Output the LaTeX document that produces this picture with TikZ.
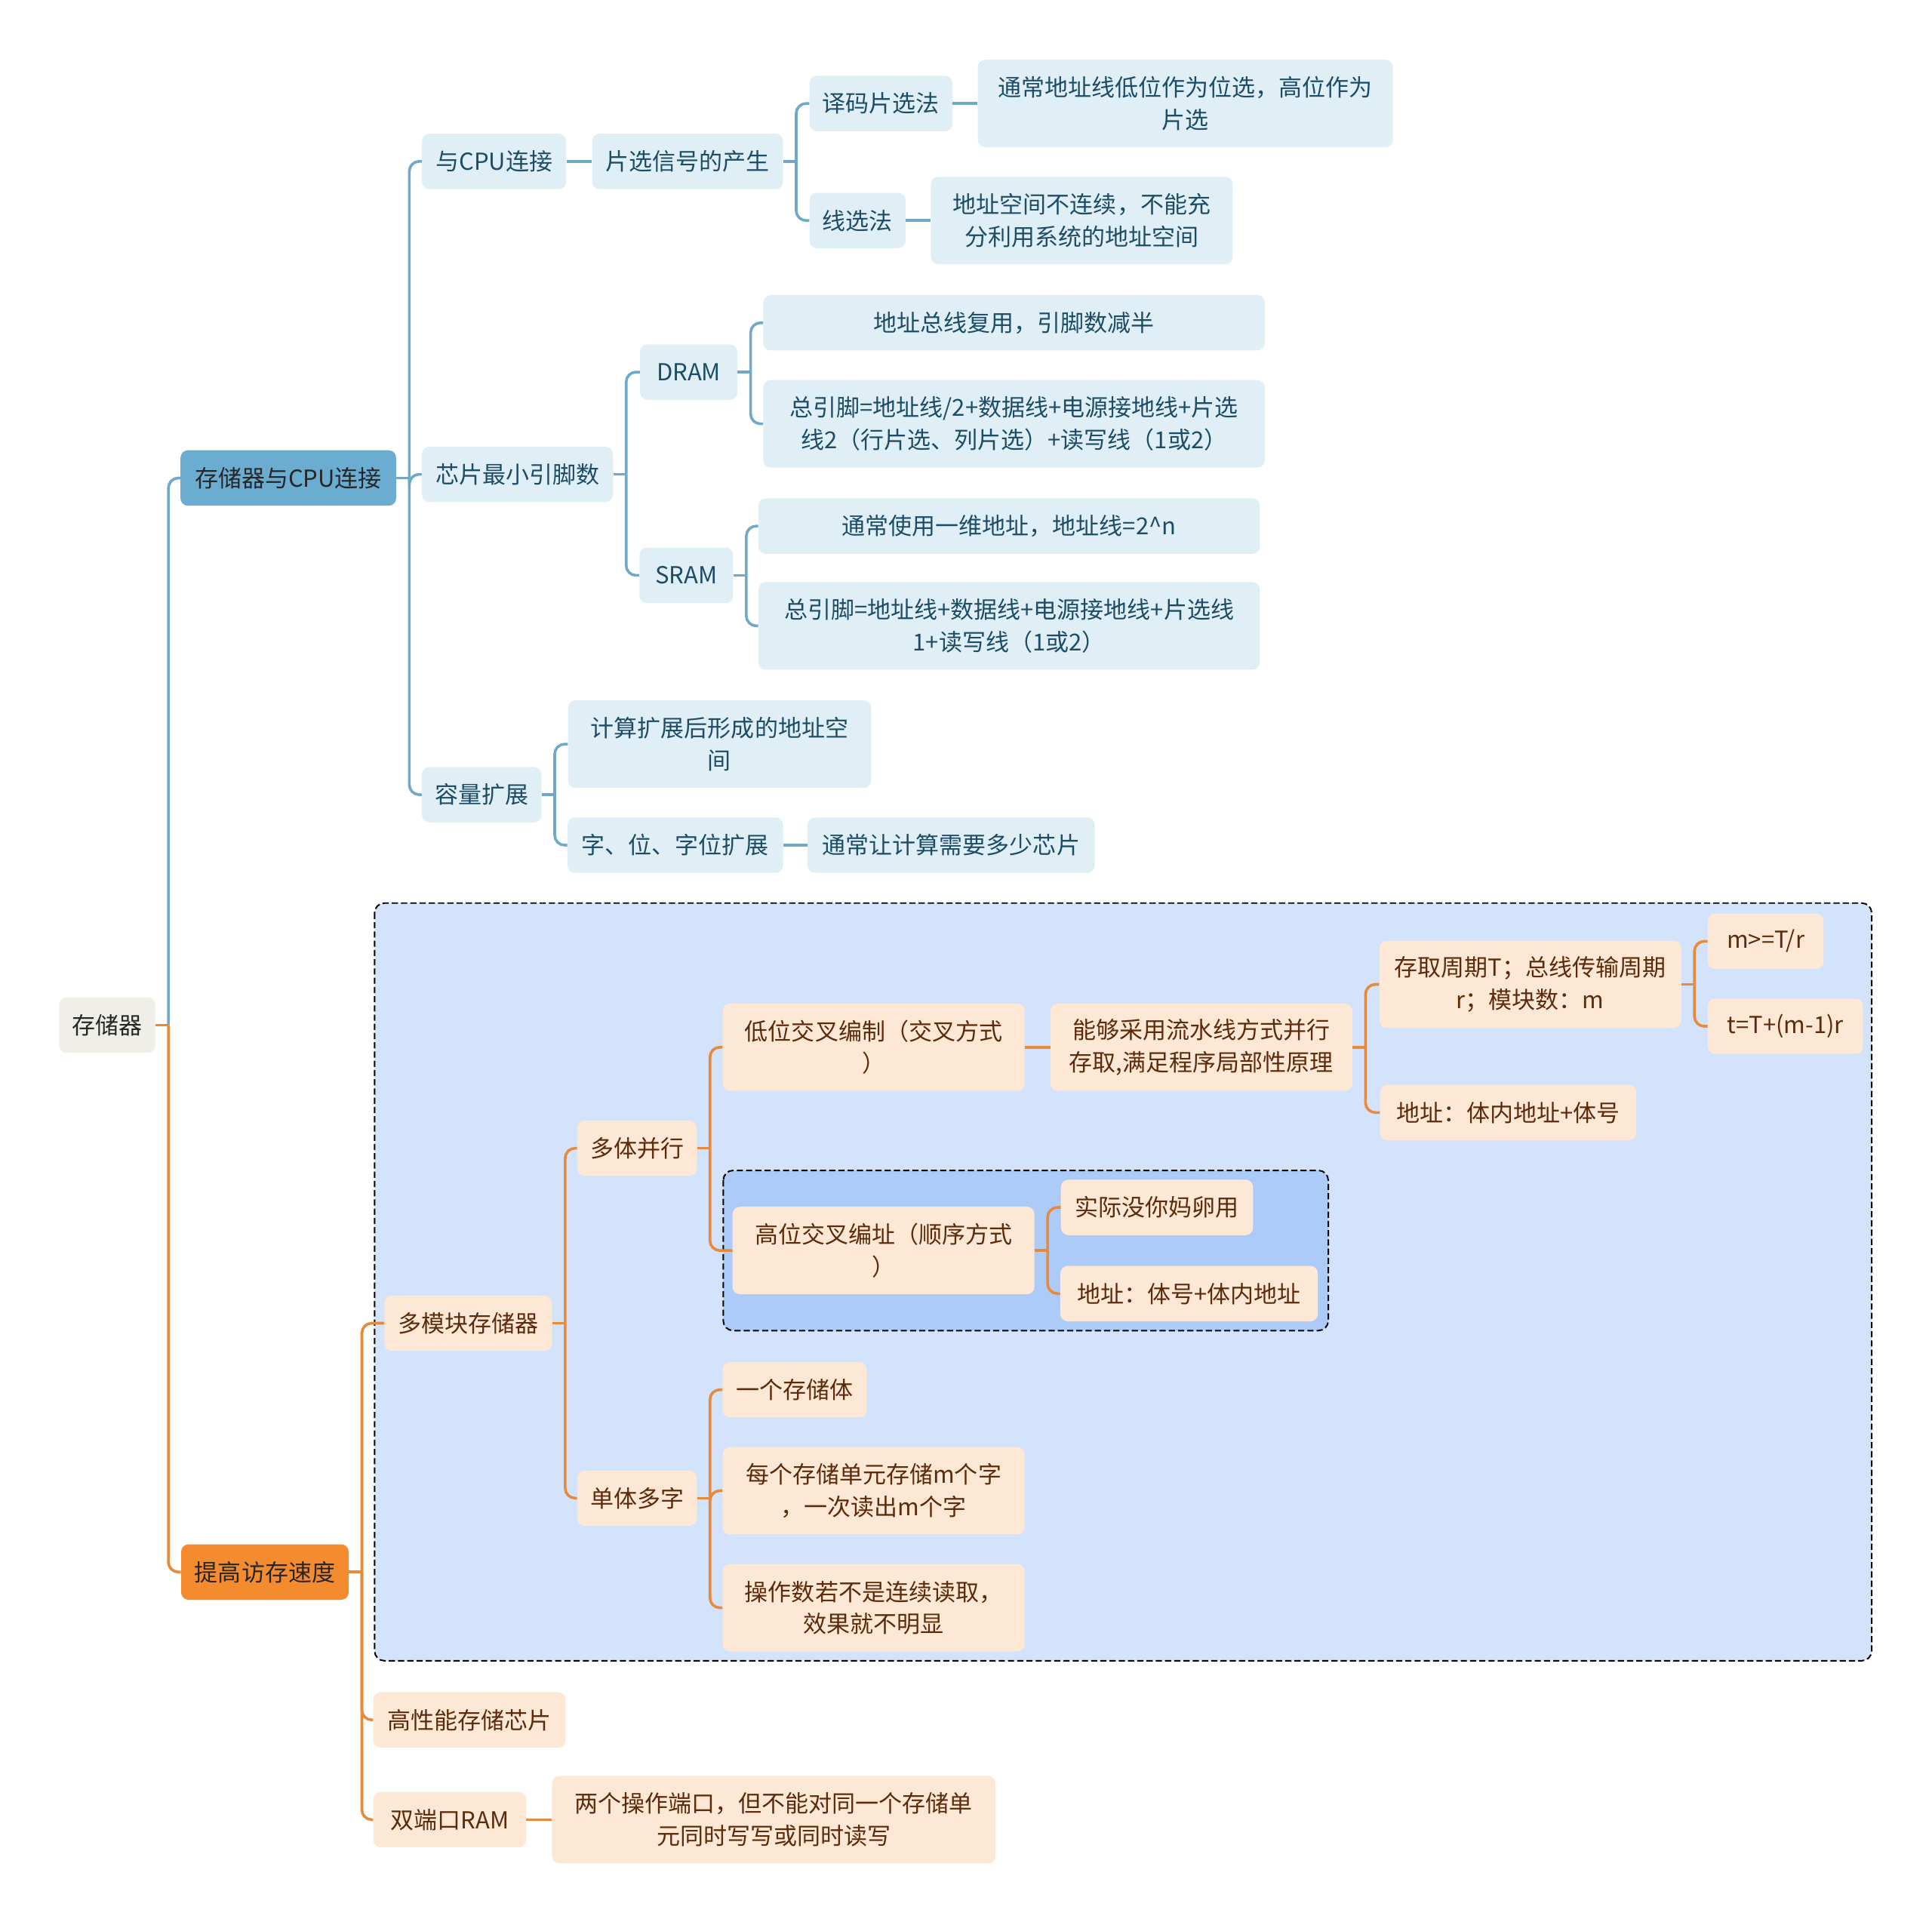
\documentclass[tikz,border=0pt]{standalone}
\usepackage{fontspec}
\setmainfont{Noto Sans CJK SC}
\usetikzlibrary{positioning,calc}
\definecolor{blueline}{RGB}{111,169,199}
\definecolor{bluefill}{RGB}{224,239,246}
\definecolor{bluemain}{RGB}{107,173,209}
\definecolor{bluetext}{RGB}{29,77,102}
\definecolor{orangeline}{RGB}{232,138,60}
\definecolor{orangefill}{RGB}{253,231,213}
\definecolor{orangemain}{RGB}{245,139,47}
\definecolor{orangetext}{RGB}{92,43,11}
\definecolor{rootfill}{RGB}{239,239,231}
\definecolor{zonefill}{RGB}{211,227,251}
\definecolor{zoneinner}{RGB}{173,203,249}

\begin{document}
\begin{tikzpicture}[
                x=1pt, y=-1pt,
                font=\fontsize{19pt}{26pt}\selectfont,
                box/.style={rectangle, rounded corners=6pt, inner xsep=10pt, inner ysep=4pt, minimum height=45pt, align=center},
                bnode/.style={box, fill=bluefill, text=bluetext},
                onode/.style={box, fill=orangefill, text=orangetext},
                tall/.style={minimum height=71pt},
                bedge/.style={draw=blueline, line width=2.2pt, rounded corners=8pt},
                oedge/.style={draw=orangeline, line width=2.2pt, rounded corners=8pt},
                zone/.style={draw=black, line width=1.2pt, dash pattern=on 5pt off 2.5pt, rounded corners=8pt},
            ]
            \useasboundingbox (0,0) rectangle (1568,1562);
            % dashed zones
            \draw[zone, fill=zonefill] (304,733) rectangle (1519,1348);
            \draw[zone, fill=zoneinner] (587,950) rectangle (1078,1080);

            % root and main branches
            \node[box, fill=rootfill, text=black!85, minimum width=78pt] (root) at (87,832) {存储器};
            \node[box, fill=bluemain, text=black!85, minimum width=175pt] (bcpu) at (234,388) {存储器与CPU连接};
            \node[box, fill=orangemain, text=black!85, minimum width=136pt] (bspeed) at (215,1276) {提高访存速度};

            % blue branch
            \node[bnode, minimum width=117pt] (cpu) at (401,131) {与CPU连接};
            \node[bnode, minimum width=155pt] (pin) at (420,385) {芯片最小引脚数};
            \node[bnode, minimum width=97pt] (cap) at (391,645) {容量扩展};
            \node[bnode, minimum width=155pt] (csel) at (558,131) {片选信号的产生};
            \node[bnode, minimum width=116pt] (dec) at (715,84) {译码片选法};
            \node[bnode, minimum width=78pt] (lsel) at (696,179) {线选法};
            \node[bnode, tall, minimum width=337pt] (decnote) at (962,84) {通常地址线低位作为位选，高位作为\\片选};
            \node[bnode, tall, minimum width=245pt] (lselnote) at (878,179) {地址空间不连续，不能充\\分利用系统的地址空间};
            \node[bnode, minimum width=79pt] (dram) at (559,302) {DRAM};
            \node[bnode, minimum width=76pt] (sram) at (557,467) {SRAM};
            \node[bnode, minimum width=407pt] (dramone) at (823,262) {地址总线复用，引脚数减半};
            \node[bnode, tall, minimum width=407pt] (dramtwo) at (823,344) {总引脚=地址线/2+数据线+电源接地线+片选\\线2（行片选、列片选）+读写线（1或2）};
            \node[bnode, minimum width=407pt] (sramone) at (819,427) {通常使用一维地址，地址线=2\^{}n};
            \node[bnode, tall, minimum width=407pt] (sramtwo) at (819,508) {总引脚=地址线+数据线+电源接地线+片选线\\1+读写线（1或2）};
            \node[bnode, tall, minimum width=246pt] (capa) at (584,604) {计算扩展后形成的地址空\\间};
            \node[bnode, minimum width=175pt] (capb) at (548,686) {字、位、字位扩展};
            \node[bnode, minimum width=233pt] (capc) at (772,686) {通常让计算需要多少芯片};

            % orange branch
            \node[onode, minimum width=136pt] (multi) at (380,1074) {多模块存储器};
            \node[onode, minimum width=156pt] (hperf) at (381,1396) {高性能存储芯片};
            \node[onode, minimum width=124pt] (dual) at (365,1477) {双端口RAM};
            \node[onode, tall, minimum width=360pt] (dualnote) at (628,1477) {两个操作端口，但不能对同一个存储单\\元同时写写或同时读写};
            \node[onode, minimum width=97pt] (para) at (517,932) {多体并行};
            \node[onode, minimum width=97pt] (single) at (517,1216) {单体多字};
            \node[onode, tall, minimum width=245pt] (low) at (709,850) {低位交叉编制（交叉方式\\）};
            \node[onode, tall, minimum width=245pt] (high) at (717,1015) {高位交叉编址（顺序方式\\）};
            \node[onode, tall, minimum width=245pt] (lownote) at (975,850) {能够采用流水线方式并行\\存取,满足程序局部性原理};
            \node[onode, tall, minimum width=245pt] (cyc) at (1242,799) {存取周期T；总线传输周期\\r；模块数：m};
            \node[onode, minimum width=208pt] (laddr) at (1224,903) {地址：体内地址+体号};
            \node[onode, minimum width=94pt] (mge) at (1433,764) {m>=T/r};
            \node[onode, minimum width=126pt] (tform) at (1449,833) {t=T+(m-1)r};
            \node[onode, minimum width=156pt] (useless) at (939,980) {实际没你妈卵用};
            \node[onode, minimum width=209pt] (haddr) at (965,1050) {地址：体号+体内地址};
            \node[onode, minimum width=117pt] (one) at (645,1128) {一个存储体};
            \node[onode, tall, minimum width=245pt] (mword) at (709,1210) {每个存储单元存储m个字\\，一次读出m个字};
            \node[onode, tall, minimum width=245pt] (nocont) at (709,1305) {操作数若不是连续读取，\\效果就不明显};

            % junction points
            \foreach \p in {root,bcpu,csel,pin,dram,sram,cap,bspeed,multi,para,single,lownote,cyc,high}
                \coordinate (\p j) at ([xshift=10.5pt]\p.east);

            % connectors
            \draw[oedge] (root.east) -- (rootj);
            \draw[bedge] (rootj) |- (bcpu.west);
            \draw[oedge] (rootj) |- (bspeed.west);
            \draw[bedge] (bcpu.east) -- (bcpuj);
            \foreach \c in {cpu,pin,cap} \draw[bedge] (bcpuj) |- (\c.west);
            \draw[bedge] (cpu) -- (csel);
            \draw[bedge] (csel.east) -- (cselj);
            \foreach \c in {dec,lsel} \draw[bedge] (cselj) |- (\c.west);
            \draw[bedge] (dec) -- (decnote);
            \draw[bedge] (lsel) -- (lselnote);
            \draw[bedge] (pin.east) -- (pinj);
            \foreach \c in {dram,sram} \draw[bedge] (pinj) |- (\c.west);
            \draw[bedge] (dram.east) -- (dramj);
            \foreach \c in {dramone,dramtwo} \draw[bedge] (dramj) |- (\c.west);
            \draw[bedge] (sram.east) -- (sramj);
            \foreach \c in {sramone,sramtwo} \draw[bedge] (sramj) |- (\c.west);
            \draw[bedge] (cap.east) -- (capj);
            \foreach \c in {capa,capb} \draw[bedge] (capj) |- (\c.west);
            \draw[bedge] (capb) -- (capc);

            \draw[oedge] (bspeed.east) -- (bspeedj);
            \foreach \c in {multi,hperf,dual} \draw[oedge] (bspeedj) |- (\c.west);
            \draw[oedge] (dual) -- (dualnote);
            \draw[oedge] (multi.east) -- (multij);
            \foreach \c in {para,single} \draw[oedge] (multij) |- (\c.west);
            \draw[oedge] (para.east) -- (paraj);
            \foreach \c in {low,high} \draw[oedge] (paraj) |- (\c.west);
            \draw[oedge] (low) -- (lownote);
            \draw[oedge] (lownote.east) -- (lownotej);
            \foreach \c in {cyc,laddr} \draw[oedge] (lownotej) |- (\c.west);
            \draw[oedge] (cyc.east) -- (cycj);
            \foreach \c in {mge,tform} \draw[oedge] (cycj) |- (\c.west);
            \draw[oedge] (high.east) -- (highj);
            \foreach \c in {useless,haddr} \draw[oedge] (highj) |- (\c.west);
            \draw[oedge] (single.east) -- (singlej);
            \foreach \c in {one,mword,nocont} \draw[oedge] (singlej) |- (\c.west);
        \end{tikzpicture}
\end{document}
